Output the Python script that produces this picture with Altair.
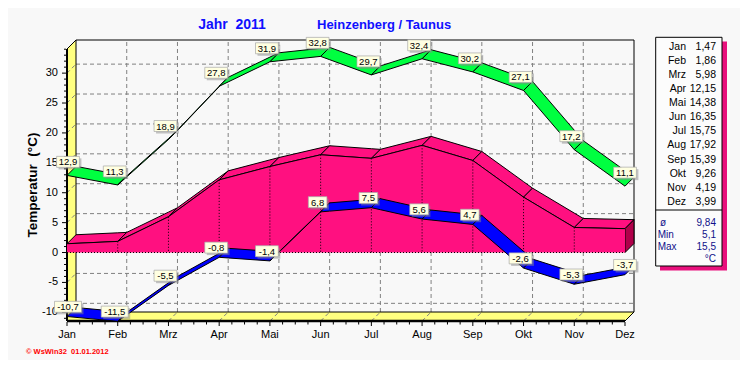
import altair as alt
import pandas as pd

# ---------------- data ----------------
months = ["Jan", "Feb", "Mrz", "Apr", "Mai", "Jun", "Jul", "Aug", "Sep", "Okt", "Nov", "Dez"]
t_max = [12.9, 11.3, 18.9, 27.8, 31.9, 32.8, 29.7, 32.4, 30.2, 27.1, 17.2, 11.1]
t_min = [-10.7, -11.5, -5.5, -0.8, -1.4, 6.8, 7.5, 5.6, 4.7, -2.6, -5.3, -3.7]
t_mean = [1.47, 1.86, 5.98, 12.15, 14.38, 16.35, 15.75, 17.92, 15.39, 9.26, 4.19, 3.99]
stat_labels = ["ø", "Min", "Max", ""]
stat_values = ["9,84", "5,1", "15,5", "°C"]
y_ticks = [-10, -5, 0, 5, 10, 15, 20, 25, 30]
title_left = "Jahr\u00a0 2011"
title_right = "Heinzenberg / Taunus"
y_title = "Temperatur\u00a0 (°C)"
footer = "© WsWin32\u00a0 01.01.2012"

# ---------------- geometry of the pseudo-3D frame ----------------
W, H = 567, 281
Y_LO, Y_HI = -11.45, 35.54
DEPTH = 9
PXM = (W - DEPTH) / 11
X_HI = 11 + DEPTH / PXM
PXY = H / (Y_HI - Y_LO)
DX = DEPTH / PXM
DY = DEPTH / PXY

FONT = "Liberation Sans"
GREEN = "#00FF40"
BLUE = "#0000FF"
PINK = "#FF1080"
PINK_DARK = "#B0004A"
YELLOW = "#FFFF80"
BG = "#F8F8F8"

xs = alt.Scale(domain=[0, X_HI], nice=False, zero=False)
ys = alt.Scale(domain=[Y_LO, Y_HI], nice=False, zero=False)


def X(f):
    return alt.X(f, type="quantitative", scale=xs, axis=None)


def Y(f):
    return alt.Y(f, type="quantitative", scale=ys, axis=None, stack=None)


def fmt(v, d=1):
    return f"{v:.{d}f}".replace(".", ",")


def ribbon(vals):
    rows = []
    for i in range(len(vals) - 1):
        a, b = vals[i], vals[i + 1]
        s = b - a
        rows += [
            dict(seg=i, x=i, lo=a, hi=a),
            dict(seg=i, x=i + DX, lo=a + s * DX, hi=a + DY),
            dict(seg=i, x=i + 1, lo=b, hi=b + DY - s * DX),
            dict(seg=i, x=i + 1 + DX, lo=b + DY, hi=b + DY),
        ]
    return pd.DataFrame(rows)


def label_df(vals, off):
    rows = []
    for i, v in enumerate(vals):
        t = fmt(v)
        w = 6 + 4.2 * len(t)
        xo = 1 if i == 0 else (0 if i == len(vals) - 1 else -3)
        rows.append(dict(t=t, xc=i + xo / PXM, yc=v + off / PXY,
                         x1=i + (xo - w / 2) / PXM, x2=i + (xo + w / 2) / PXM,
                         y1=v + (off - 5.5) / PXY, y2=v + (off + 5.5) / PXY))
    return pd.DataFrame(rows)


layers = []

# walls (left wall + floor)
walls = pd.DataFrame([
    dict(p="wall", x=0, lo=Y_LO, hi=Y_HI - DY),
    dict(p="wall", x=DX, lo=Y_LO + DY, hi=Y_HI),
    dict(p="floor", x=0, lo=Y_LO, hi=Y_LO),
    dict(p="floor", x=DX, lo=Y_LO, hi=Y_LO + DY),
    dict(p="floor", x=11, lo=Y_LO, hi=Y_LO + DY),
    dict(p="floor", x=X_HI, lo=Y_LO + DY, hi=Y_LO + DY),
])
layers.append(alt.Chart(walls).mark_area(color=YELLOW).encode(
    x=X("x"), y=Y("lo"), y2="hi", detail="p:N"))

# grid lines (back plane + diagonals on wall / floor)
grid = []
for v in y_ticks:
    grid.append(dict(x=DX, x2=X_HI, y=v + DY, y2=v + DY))
    grid.append(dict(x=0, x2=DX, y=v, y2=v + DY))
for i in range(1, 11):
    grid.append(dict(x=i + DX, x2=i + DX, y=Y_LO + DY, y2=Y_HI))
    grid.append(dict(x=i, x2=i + DX, y=Y_LO, y2=Y_LO + DY))
layers.append(alt.Chart(pd.DataFrame(grid)).mark_rule(
    color="#808080", strokeDash=[4, 3], strokeWidth=1).encode(
    x=X("x"), x2="x2", y=Y("y"), y2="y2"))

# frame edges
edges = pd.DataFrame([
    dict(x=DX, x2=X_HI, y=Y_HI, y2=Y_HI, w=1),
    dict(x=X_HI, x2=X_HI, y=Y_LO + DY, y2=Y_HI, w=1),
    dict(x=DX, x2=DX, y=Y_LO + DY, y2=Y_HI, w=1),
    dict(x=0, x2=DX, y=Y_HI - DY, y2=Y_HI, w=1),
    dict(x=0, x2=0, y=Y_LO, y2=Y_HI - DY, w=2),
    dict(x=DX, x2=X_HI, y=Y_LO + DY, y2=Y_LO + DY, w=1),
    dict(x=0, x2=11, y=Y_LO, y2=Y_LO, w=2.5),
    dict(x=11, x2=X_HI, y=Y_LO, y2=Y_LO + DY, w=1),
])
layers.append(alt.Chart(edges).mark_rule(color="black").encode(
    x=X("x"), x2="x2", y=Y("y"), y2="y2",
    strokeWidth=alt.StrokeWidth("w:Q", scale=None)))

# axis ticks and labels
ytk = pd.DataFrame({"v": y_ticks, "t": [str(v) for v in y_ticks]})
ymin = pd.DataFrame({"v": [v for v in range(-11, 35) if v % 5 != 0]})
layers.append(alt.Chart(ytk).mark_rule(color="black").encode(
    x=alt.value(-5), x2=alt.value(-1), y=Y("v")))
layers.append(alt.Chart(ymin).mark_rule(color="black").encode(
    x=alt.value(-3), x2=alt.value(-1), y=Y("v")))
layers.append(alt.Chart(ytk).mark_text(align="right", baseline="middle", font=FONT,
                                        fontSize=11, color="black").encode(
    x=alt.value(-9), y=Y("v"), text="t:N"))
xtk = pd.DataFrame({"i": list(range(12)), "m": months})
xmin = pd.DataFrame({"i": [i + k / 4 for i in range(11) for k in (1, 2, 3)]})
layers.append(alt.Chart(xtk).mark_rule(color="black").encode(
    x=X("i"), y=alt.value(H + 1), y2=alt.value(H + 5)))
layers.append(alt.Chart(xmin).mark_rule(color="black").encode(
    x=X("i"), y=alt.value(H + 1), y2=alt.value(H + 3.5)))
layers.append(alt.Chart(xtk).mark_text(align="center", baseline="middle", font=FONT,
                                        fontSize=11, color="black").encode(
    x=X("i"), y=alt.value(H + 14), text="m:N"))

# mean: 3D solid
mean_df = pd.DataFrame({"i": list(range(12)), "v": t_mean, "z": [0.0] * 12, "e": [11.0] * 12})
layers.append(alt.Chart(ribbon(t_mean)).mark_area(
    color=PINK, stroke="black", strokeWidth=1).encode(
    x=X("x"), y=Y("lo"), y2="hi", detail="seg:N"))
side = pd.DataFrame([
    dict(x=11, lo=0, hi=t_mean[-1]),
    dict(x=X_HI, lo=DY, hi=t_mean[-1] + DY),
])
layers.append(alt.Chart(side).mark_area(
    color=PINK_DARK, stroke="black", strokeWidth=1).encode(
    x=X("x"), y=Y("lo"), y2="hi"))
layers.append(alt.Chart(mean_df).mark_area(color=PINK).encode(
    x=X("i"), y=Y("v"), y2="z"))
layers.append(alt.Chart(mean_df).mark_line(color="black", strokeWidth=1).encode(
    x=X("i"), y=Y("v")))
layers.append(alt.Chart(mean_df[(mean_df.i > 0) & (mean_df.i < 11)]).mark_rule(
    color="black", strokeDash=[1, 2], strokeWidth=1).encode(
    x=X("i"), y=Y("v"), y2="z"))
layers.append(alt.Chart(mean_df.iloc[[0]]).mark_rule(
    color="black", strokeDash=[1, 2], strokeWidth=1).encode(
    x=X("z"), x2="e", y=Y("z")))

# min & max ribbons
layers.append(alt.Chart(ribbon(t_min)).mark_area(
    color=BLUE, stroke="black", strokeWidth=1).encode(
    x=X("x"), y=Y("lo"), y2="hi", detail="seg:N"))
layers.append(alt.Chart(ribbon(t_max)).mark_area(
    color=GREEN, stroke="black", strokeWidth=1).encode(
    x=X("x"), y=Y("lo"), y2="hi", detail="seg:N"))

# value labels
labs = pd.concat([label_df(t_max, 13.5), label_df(t_min, 9.7)], ignore_index=True)
layers.append(alt.Chart(labs).mark_rect(
    color="#8A8A8A", opacity=0.5, xOffset=2, x2Offset=2, yOffset=2, y2Offset=2).encode(
    x=X("x1"), x2="x2", y=Y("y1"), y2="y2"))
layers.append(alt.Chart(labs).mark_rect(
    fill="#FFFFE1", stroke="#A8A8A8", strokeWidth=0.7).encode(
    x=X("x1"), x2="x2", y=Y("y1"), y2="y2"))
layers.append(alt.Chart(labs).mark_text(
    font=FONT, fontSize=9.5, color="black", align="center", baseline="middle", dy=0.5).encode(
    x=X("xc"), y=Y("yc"), text="t:N"))

# titles and free texts (pixel-positioned)
one = pd.DataFrame({"a": [0]})


def txt(s, x, y, **kw):
    return alt.Chart(one).mark_text(font=FONT, **kw).encode(
        x=alt.value(x), y=alt.value(y), text=alt.value(s))


layers.append(txt(title_left, 165, -11, fontSize=14, fontWeight="bold", color="#1010FF",
                  align="center", baseline="alphabetic"))
layers.append(txt(title_right, 250, -11, fontSize=13, fontWeight="bold", color="#1010FF",
                  align="left", baseline="alphabetic"))
layers.append(txt(y_title, -34, 145, fontSize=13.5, fontWeight="bold", color="black",
                  align="center", baseline="middle", angle=270))
layers.append(txt(footer, -41, 311.5, fontSize=7.5, fontWeight="bold", color="#FF0000",
                  align="left", baseline="middle"))

# side panel
layers.append(alt.Chart(one).mark_rect(color="#E8107C").encode(
    x=alt.value(593), x2=alt.value(660), y=alt.value(1.5), y2=alt.value(230.5)))
layers.append(alt.Chart(one).mark_rect(fill="#FCFCFC", stroke="black", strokeWidth=1).encode(
    x=alt.value(588.7), x2=alt.value(655), y=alt.value(-2.7), y2=alt.value(226)))
layers.append(alt.Chart(one).mark_rule(color="black", strokeWidth=1).encode(
    x=alt.value(588.7), x2=alt.value(655), y=alt.value(170), y2=alt.value(170)))
for k, (m, v) in enumerate(zip(months, t_mean)):
    yy = 9.8 + 14.09 * k
    layers.append(txt(m, 619, yy, fontSize=10.5, color="black", align="right",
                      baseline="alphabetic"))
    layers.append(txt(fmt(v, 2), 649, yy, fontSize=10.5, color="black", align="right",
                      baseline="alphabetic"))
for k, (lab, val) in enumerate(zip(stat_labels, stat_values)):
    yy = 185.5 + 12.0 * k
    if lab:
        if k == 0:
            layers.append(txt(lab, 596, yy, fontSize=10, color="#10108A", align="center",
                              baseline="alphabetic"))
        else:
            layers.append(txt(lab, 590.7, yy, fontSize=10, color="#10108A", align="left",
                              baseline="alphabetic"))
    layers.append(txt(val, 649, yy, fontSize=10, color="#10108A", align="right",
                      baseline="alphabetic"))

chart = alt.layer(*layers).properties(
    width=W, height=H,
    autosize=alt.AutoSizeParams(type="none"),
    padding={"left": 59, "top": 32, "right": 106, "bottom": 39},
    background=BG,
).configure_view(stroke=None)

chart.save("out.html", embed_options={"renderer": "svg", "actions": False})
